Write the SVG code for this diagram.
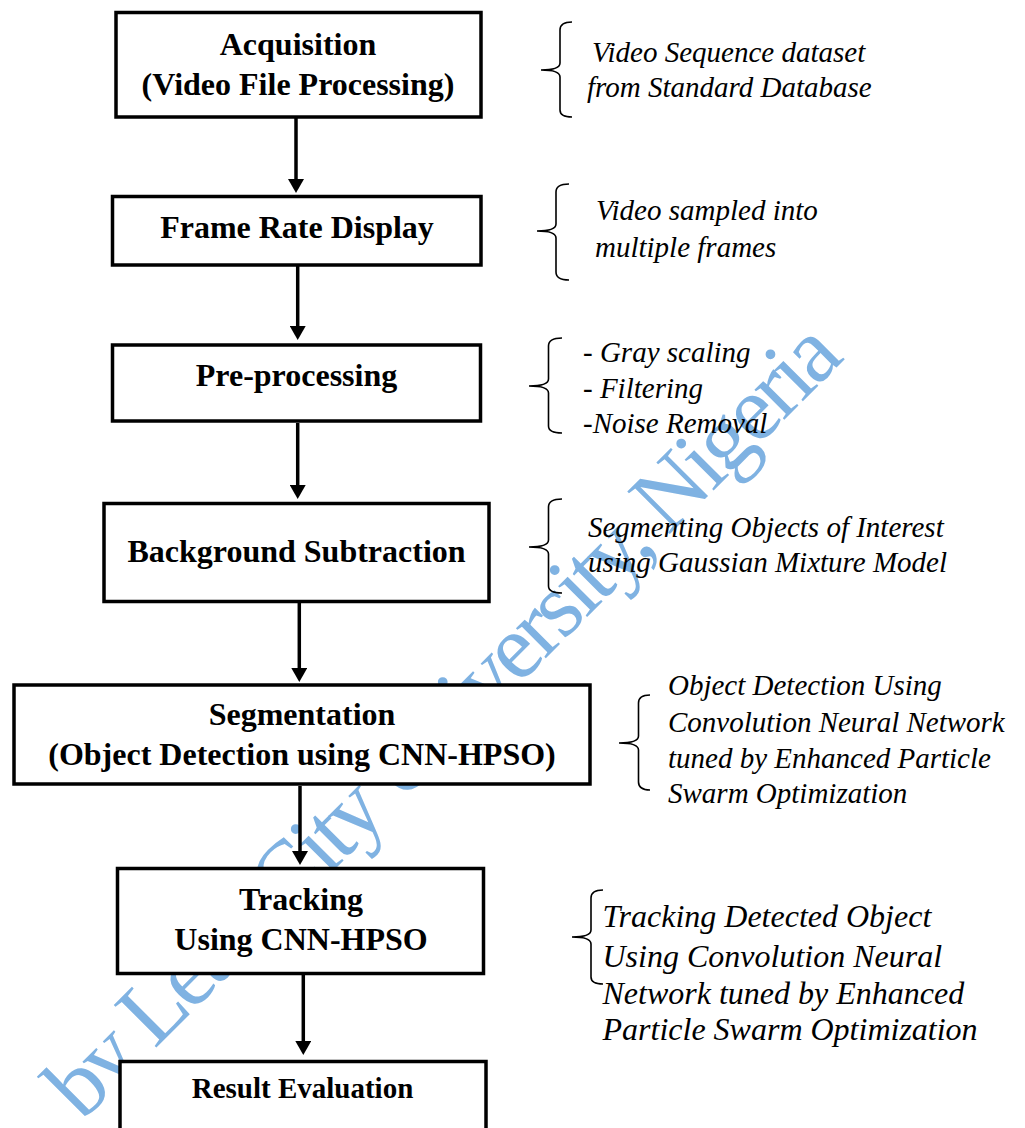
<svg xmlns="http://www.w3.org/2000/svg" width="1025" height="1128" viewBox="0 0 1025 1128">
<style>
.box{fill:#fff;stroke:#000;stroke-width:3.5}
.t{font-family:"Liberation Serif","Times New Roman",serif;font-weight:bold;font-size:32px;fill:#000;text-anchor:middle}
.n{font-family:"Liberation Serif","Times New Roman",serif;font-style:italic;font-size:29px;fill:#000}
.n32{font-size:32px}
.br{fill:none;stroke:#000;stroke-width:1.6}
.ar{stroke:#000;stroke-width:3.5;fill:none}
.wm{font-family:"Liberation Serif","Times New Roman",serif;font-size:92px;fill:#7fb2e2}
</style>
<defs>
<marker id="ah" markerUnits="userSpaceOnUse" markerWidth="16" markerHeight="16" refX="2" refY="8" orient="auto">
<path d="M0,0 L14,8 L0,16 z" fill="#000"/>
</marker>
</defs>
<rect width="1025" height="1128" fill="#fff"/>
<text class="wm" transform="translate(82,1122) rotate(-45)" textLength="1080" lengthAdjust="spacing">by Lead City University, Nigeria</text>
<g id="connectors">
<line class="ar" x1="296" y1="118" x2="296" y2="181" marker-end="url(#ah)"/>
<line class="ar" x1="297.7" y1="266" x2="297.7" y2="328" marker-end="url(#ah)"/>
<line class="ar" x1="297.7" y1="423" x2="297.7" y2="487" marker-end="url(#ah)"/>
<line class="ar" x1="299.3" y1="603" x2="299.3" y2="670" marker-end="url(#ah)"/>
<line class="ar" x1="300" y1="786" x2="300" y2="853" marker-end="url(#ah)"/>
<line class="ar" x1="303.3" y1="975" x2="303.3" y2="1043" marker-end="url(#ah)"/>
</g>
<g id="n1"><rect class="box" x="116" y="12.5" width="365" height="104.5"/><text class="t" x="298" y="55">Acquisition</text><text class="t" x="298" y="95">(Video File Processing)</text></g>
<g id="n2"><rect class="box" x="112.5" y="196.5" width="368.5" height="68.5"/><text class="t" x="297" y="238">Frame Rate Display</text></g>
<g id="n3"><rect class="box" x="112.5" y="345" width="368" height="76"/><text class="t" x="296.5" y="386">Pre-processing</text></g>
<g id="n4"><rect class="box" x="104" y="503.5" width="385" height="98"/><text class="t" x="296.5" y="562">Background Subtraction</text></g>
<g id="n5"><rect class="box" x="14" y="685" width="576" height="99"/><text class="t" x="302" y="725">Segmentation</text><text class="t" x="302" y="765">(Object Detection using CNN-HPSO)</text></g>
<g id="n6"><rect class="box" x="117.5" y="868.5" width="366" height="105"/><text class="t" x="301" y="910">Tracking</text><text class="t" x="301" y="950">Using CNN-HPSO</text></g>
<g id="n7"><rect class="box" x="120" y="1061.5" width="366" height="80"/><text class="t" x="302.5" y="1098" style="font-size:29px">Result Evaluation</text></g>
<g id="a1"><path class="br" d="M572,22 Q560,22 560,30 L560,63 Q560,70 541,70 Q560,70 560,77 L560,110 Q560,117 572,117"/>
<text class="n" x="592" y="62">Video Sequence dataset</text><text class="n" x="587" y="97">from Standard Database</text></g>
<g id="a2"><path class="br" d="M569,184 Q556,184 556,192 L556,224 Q556,231 537,231 Q556,231 556,238 L556,272 Q556,280 569,280"/>
<text class="n" x="596" y="220">Video sampled into</text><text class="n" x="595" y="256.5">multiple frames</text></g>
<g id="a3"><path class="br" d="M562,338 Q548.5,338 548.5,346 L548.5,379 Q548.5,386 529,386 Q548.5,386 548.5,393 L548.5,426 Q548.5,433 562,433"/>
<text class="n" x="583" y="361.5">- Gray scaling</text><text class="n" x="583" y="397.5">- Filtering</text><text class="n" x="583" y="433">-Noise Removal</text></g>
<g id="a4"><path class="br" d="M562,499 Q548.5,499 548.5,507 L548.5,540 Q548.5,547 529,547 Q548.5,547 548.5,554 L548.5,586 Q548.5,593 562,593"/>
<text class="n" x="588" y="537">Segmenting Objects of Interest</text><text class="n" x="588" y="572">using Gaussian Mixture Model</text></g>
<g id="a5"><path class="br" d="M650,695 Q638.5,695 638.5,703 L638.5,736 Q638.5,743 619,743 Q638.5,743 638.5,750 L638.5,782 Q638.5,790 650,790"/>
<text class="n" x="668" y="695">Object Detection Using</text><text class="n" x="668" y="731.5">Convolution Neural Network</text><text class="n" x="668" y="767.5">tuned by Enhanced Particle</text><text class="n" x="668" y="803">Swarm Optimization</text></g>
<g id="a6"><path class="br" d="M603,890 Q591,890 591,898 L591,930 Q591,937 572,937 Q591,937 591,944 L591,977 Q591,984 603,984"/>
<text class="n n32" x="602.5" y="926.5">Tracking Detected Object</text><text class="n n32" x="602.5" y="967">Using Convolution Neural</text><text class="n n32" x="602.5" y="1004">Network tuned by Enhanced</text><text class="n n32" x="602.5" y="1040">Particle Swarm Optimization</text></g>
</svg>
